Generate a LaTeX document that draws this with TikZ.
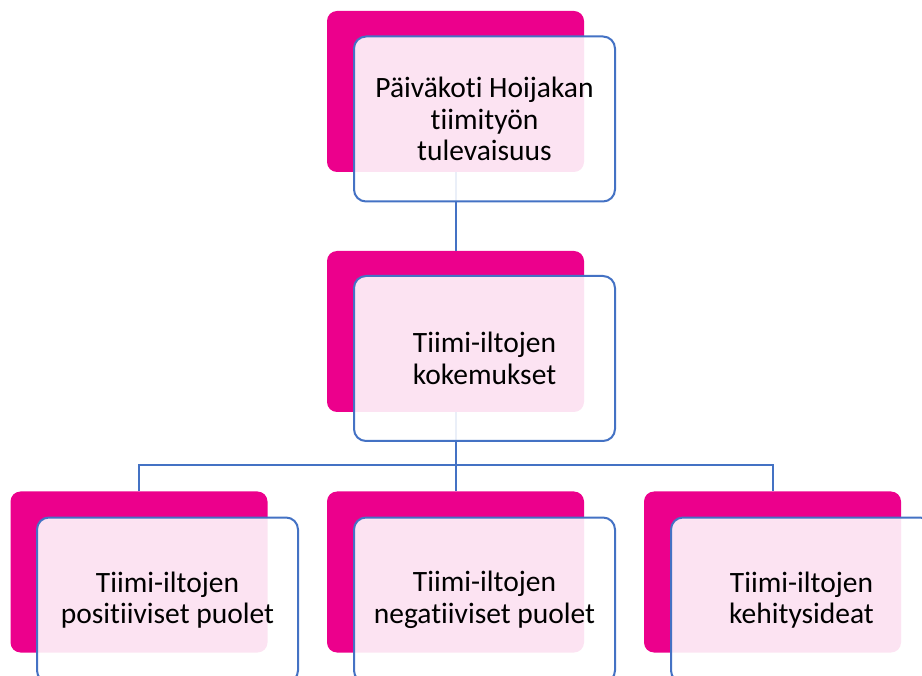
\documentclass[tikz,border=0pt]{standalone}
\usepackage{fontspec}
\setmainfont{Carlito}[Ligatures={NoCommon,NoDiscretionary,NoRare}]
\definecolor{mag}{HTML}{EC008C}
\definecolor{lineblue}{HTML}{4472C4}
\begin{document}
\begin{tikzpicture}[x=1pt,y=-1pt,
 backbox/.style={rectangle, rounded corners=10pt, fill=mag, minimum width=257pt, minimum height=161pt, inner sep=0pt, draw=none},
 frontbox/.style={rectangle, rounded corners=12pt, draw=lineblue, line width=2pt, fill=white, fill opacity=0.89, text opacity=1, minimum width=261pt, minimum height=165pt, inner sep=0pt, align=center, font=\fontsize{29.5}{31.5}\selectfont},
 conn/.style={draw=lineblue, line width=2pt}]
\useasboundingbox (0,0) rectangle (922,676);
\clip (0,0) rectangle (922,676);
\node[backbox] (b1) at (455.5,91.5) {};
\node[backbox] (b2) at (455.5,331.5) {};
\node[backbox] (b3) at (139,572) {};
\node[backbox] (b4) at (455.5,572) {};
\node[backbox] (b5) at (772.5,572) {};
\coordinate (bus) at (455.5,465);
\draw[conn] (b1.south) -- (b2.north);
\draw[conn] (b2.south) -- (b4.north);
\draw[conn] (b3.north) |- (bus) -| (b5.north);
\node[frontbox] (f1) at (484.5,119) {Päiväkoti Hoijakan\\tiimityön\\tulevaisuus};
\node[frontbox] (f2) at (484.5,358.5) {Tiimi-iltojen\\kokemukset};
\node[frontbox] (f3) at (167.5,600) {Tiimi-iltojen\\positiiviset puolet};
\node[frontbox] (f4) at (484.5,600) {Tiimi-iltojen\\negatiiviset puolet};
\node[frontbox] (f5) at (801.5,600) {Tiimi-iltojen\\kehitysideat};
\end{tikzpicture}
\end{document}
